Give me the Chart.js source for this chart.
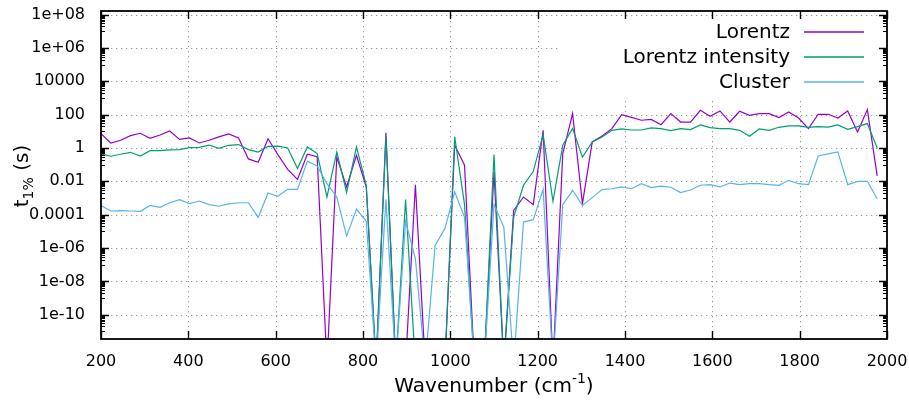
<!DOCTYPE html>
<html>
<head>
<meta charset="utf-8">
<title>t1% vs wavenumber</title>
<script src="https://cdn.jsdelivr.net/npm/chart.js@4/dist/chart.umd.min.js"></script>
<style>
  html, body { margin: 0; padding: 0; background: #fff; }
  canvas { display: block; }
</style>
</head>
<body>
<canvas id="plot" width="909" height="403"></canvas>
<script>
// wavenumber grid (cm-1)
const wavenumbers = [
    200, 222.5, 245, 267.5, 290, 312.5, 335, 357.5, 380, 402.5,
    425, 447.5, 470, 492.5, 515, 537.5, 560, 582.5, 605, 627.5,
    650, 672.5, 695, 717.5, 740, 762.5, 785, 807.5, 830, 852.5,
    875, 897.5, 920, 942.5, 965, 987.5, 1010, 1032.5, 1055, 1077.5,
    1100, 1122.5, 1145, 1167.5, 1190, 1212.5, 1235, 1257.5, 1280, 1302.5,
    1325, 1347.5, 1370, 1392.5, 1415, 1437.5, 1460, 1482.5, 1505, 1527.5,
    1550, 1572.5, 1595, 1617.5, 1640, 1662.5, 1685, 1707.5, 1730, 1752.5,
    1775, 1797.5, 1820, 1842.5, 1865, 1887.5, 1910, 1932.5, 1955, 1977.5
];

// t_1% in seconds; 1e-13 entries sit below the plotted range
const lorentz = [
    7.2, 2.0, 2.9, 5.5, 7.6, 3.8, 6.0, 10.5, 3.3, 4.0,
    2.0, 2.9, 4.6, 6.9, 4.0, 0.22, 0.14, 3.6, 0.40, 0.052,
    0.013, 0.42, 0.30, 1e-13, 0.29, 0.0046, 0.36, 0.0046, 1e-13, 8.3,
    1e-13, 1e-13, 0.0063, 1e-13, 1e-13, 1e-13, 1.5, 0.093, 1e-13, 1e-13,
    0.036, 1e-13, 1.8e-4, 0.00115, 4e-4, 11.5, 1e-13, 0.46, 115, 4.6e-4,
    2.3, 5.2, 14.5, 100, 69, 46, 52, 25, 115, 36,
    36, 182, 79, 166, 36, 158, 91, 115, 115, 66,
    145, 63, 14.5, 105, 105, 63, 166, 9.1, 200, 0.021
];

const lorentzIntensity = [
    0.44, 0.32, 0.42, 0.55, 0.33, 0.69, 0.69, 0.76, 0.79, 1.05,
    1.1, 1.5, 0.95, 1.45, 1.6, 0.8, 0.57, 1.26, 1.3, 1.0,
    0.058, 1.15, 0.46, 0.00115, 0.58, 0.0021, 1.15, 0.0058, 1e-13, 5.2,
    1e-13, 0.0008, 1e-13, 1e-13, 1e-13, 1e-13, 4.7, 4e-4, 1e-13, 1e-13,
    0.4, 1e-13, 7e-5, 0.0058, 0.04, 6.3, 6.3e-4, 1.45, 15, 0.28,
    2.3, 4.6, 11.5, 13.8, 12, 12, 16, 14.5, 11, 14.5,
    12.6, 24, 16.6, 14.5, 14.5, 11.5, 5, 13.8, 11.5, 17.4,
    21, 21, 17.4, 19, 18, 24, 13, 19, 29, 1.0
];

const cluster = [
    3.5e-4, 1.66e-4, 1.74e-4, 1.66e-4, 1.6e-4, 3.6e-4, 2.75e-4, 5.2e-4, 7.9e-4, 4.6e-4,
    6.6e-4, 4e-4, 3.2e-4, 4.4e-4, 5.2e-4, 5.2e-4, 6.9e-5, 0.002, 0.00126, 0.0033,
    0.0033, 0.16, 0.083, 0.0072, 0.00115, 5.2e-6, 2.1e-4, 4e-5, 1e-13, 8.3e-4,
    1e-13, 4e-5, 2.3e-7, 1e-13, 1.45e-6, 1.45e-5, 0.0023, 7.2e-5, 1e-13, 1e-13,
    4e-4, 1.8e-5, 1e-13, 3.6e-5, 5e-5, 0.0033, 1e-13, 4e-4, 0.0029, 3.6e-4,
    0.00105, 0.0032, 0.0036, 0.0046, 0.0036, 0.0072, 0.0042, 0.0052, 0.0044, 0.0021,
    0.003, 0.0058, 0.0063, 0.0046, 0.0079, 0.0063, 0.0072, 0.0072, 0.0063, 0.0058,
    0.0115, 0.0072, 0.0063, 0.33, 0.44, 0.58, 0.0063, 0.01, 0.01, 9e-4
];

const seriesLabels = ['Lorentz', 'Lorentz intensity', 'Cluster'];
const seriesColors = ['#9400d3', '#009e73', '#56b4e9'];

const yTickValues = [1e-10, 1e-8, 1e-6, 1e-4, 1e-2, 1, 1e2, 1e4, 1e6, 1e8];
const yTickLabels = ['1e-10', '1e-08', '1e-06', '0.0001', '0.01', '1', '100', '10000', '1e+06', '1e+08'];

const FONT = "'DejaVu Sans', sans-serif";
Chart.defaults.font.family = FONT;
Chart.defaults.font.size = 16;
Chart.defaults.color = '#000';

const toPoints = vals => vals.map((v, i) => ({ x: wavenumbers[i], y: v }));

// gnuplot-style frame: dotted grid, inward tics, boxed border, key and axis titles
const gnuplotFrame = {
    id: 'gnuplotFrame',
    beforeDatasetsDraw(chart) {
        const { ctx, chartArea: a, scales: { x, y } } = chart;
        ctx.save();
        ctx.strokeStyle = '#999';
        ctx.lineWidth = 1;
        ctx.setLineDash([1.3, 3.7]);
        ctx.beginPath();
        x.ticks.forEach(t => {
            if (t.value <= x.min || t.value >= x.max) return;
            const px = Math.round(x.getPixelForValue(t.value)) + 0.5;
            ctx.moveTo(px, a.top);
            ctx.lineTo(px, a.bottom);
        });
        y.ticks.forEach(t => {
            const py = Math.round(y.getPixelForValue(t.value)) + 0.5;
            ctx.moveTo(a.left, py);
            ctx.lineTo(a.right, py);
        });
        ctx.stroke();
        // opaque key box hides the grid behind it
        ctx.fillStyle = '#fff';
        ctx.fillRect(561, 17, a.right - 561, 84);
        ctx.restore();
    },
    afterDatasetsDraw(chart) {
        const { ctx, chartArea: a, scales: { x, y } } = chart;
        ctx.save();
        ctx.setLineDash([]);
        ctx.strokeStyle = '#000';

        // major tics on all four sides
        ctx.lineWidth = 1.4;
        ctx.beginPath();
        x.ticks.forEach(t => {
            const px = Math.round(x.getPixelForValue(t.value)) + 0.5;
            ctx.moveTo(px, a.bottom); ctx.lineTo(px, a.bottom - 8);
            ctx.moveTo(px, a.top); ctx.lineTo(px, a.top + 8);
        });
        y.ticks.forEach(t => {
            const py = Math.round(y.getPixelForValue(t.value)) + 0.5;
            ctx.moveTo(a.left, py); ctx.lineTo(a.left + 8, py);
            ctx.moveTo(a.right, py); ctx.lineTo(a.right - 8, py);
        });
        ctx.stroke();

        // minor log tics: k * 10^n for odd n
        ctx.lineWidth = 1;
        ctx.beginPath();
        for (let n = -11; n <= 7; n += 2) {
            for (let k = 1; k <= 9; k++) {
                const v = k * Math.pow(10, n);
                if (v < y.min || v > y.max) continue;
                const py = Math.round(y.getPixelForValue(v)) + 0.5;
                ctx.moveTo(a.left, py); ctx.lineTo(a.left + 4, py);
                ctx.moveTo(a.right, py); ctx.lineTo(a.right - 4, py);
            }
        }
        ctx.stroke();

        // border
        ctx.lineWidth = 1.8;
        ctx.strokeRect(a.left, a.top, a.right - a.left, a.bottom - a.top);

        // key
        const keyY = [32, 57, 82];
        ctx.font = '20px ' + FONT;
        ctx.fillStyle = '#000';
        ctx.textAlign = 'right';
        ctx.textBaseline = 'middle';
        seriesLabels.forEach((label, i) => {
            ctx.fillText(label, 790, keyY[i] + 1);
            ctx.strokeStyle = seriesColors[i];
            ctx.lineWidth = 1.3;
            ctx.beginPath();
            ctx.moveTo(804, keyY[i]);
            ctx.lineTo(864, keyY[i]);
            ctx.stroke();
        });

        // x title with superscript
        ctx.textAlign = 'left';
        ctx.textBaseline = 'alphabetic';
        const big = '20px ' + FONT, small = '14px ' + FONT;
        ctx.font = big;
        const w1 = ctx.measureText('Wavenumber (cm').width;
        const w3 = ctx.measureText(')').width;
        ctx.font = small;
        const w2 = ctx.measureText('-1').width;
        let tx = (a.left + a.right) / 2 - (w1 + w2 + w3) / 2;
        ctx.font = big;
        ctx.fillText('Wavenumber (cm', tx, 392);
        tx += w1;
        ctx.font = small;
        ctx.fillText('-1', tx, 383);
        tx += w2;
        ctx.font = big;
        ctx.fillText(')', tx, 392);

        // y title with subscript, rotated
        ctx.translate(28, 176);
        ctx.rotate(-Math.PI / 2);
        ctx.font = big;
        const wt = ctx.measureText('t').width;
        const ws = ctx.measureText(' (s)').width;
        ctx.font = small;
        const wsub = ctx.measureText('1%').width;
        let ty = -(wt + wsub + ws) / 2;
        ctx.font = big;
        ctx.fillText('t', ty, 0);
        ty += wt;
        ctx.font = small;
        ctx.fillText('1%', ty, 5);
        ty += wsub;
        ctx.font = big;
        ctx.fillText(' (s)', ty, 0);

        ctx.restore();
    }
};

const datasets = [lorentz, lorentzIntensity, cluster].map((vals, i) => ({
    label: seriesLabels[i],
    data: toPoints(vals),
    borderColor: seriesColors[i],
    backgroundColor: seriesColors[i],
    borderWidth: 1.2,
    pointRadius: 0,
    tension: 0,
    fill: false,
    order: 3 - i
}));

new Chart(document.getElementById('plot').getContext('2d'), {
    type: 'line',
    data: { datasets },
    plugins: [gnuplotFrame],
    options: {
        responsive: false,
        animation: false,
        events: [],
        layout: { padding: { top: 11, right: 22, left: 0, bottom: 0 } },
        plugins: {
            legend: { display: false },
            tooltip: { enabled: false }
        },
        scales: {
            x: {
                type: 'linear',
                min: 200,
                max: 2000,
                grid: { display: false },
                border: { display: false },
                ticks: {
                    stepSize: 200,
                    autoSkip: false,
                    maxRotation: 0,
                    padding: 5,
                    callback: v => String(v)
                },
                afterFit: scale => {
                    scale.height = 64;
                    scale.paddingLeft = 0;
                    scale.paddingRight = 0;
                }
            },
            y: {
                type: 'logarithmic',
                min: 3.5e-12,
                max: 1.64e8,
                grid: { display: false },
                border: { display: false },
                afterBuildTicks: scale => {
                    scale.ticks = yTickValues.map(v => ({ value: v }));
                },
                ticks: {
                    autoSkip: false,
                    padding: 8,
                    callback: (v, i) => yTickLabels[i]
                },
                afterFit: scale => {
                    scale.width = 101;
                    scale.paddingTop = 0;
                    scale.paddingBottom = 0;
                }
            }
        }
    }
});
</script>
</body>
</html>
